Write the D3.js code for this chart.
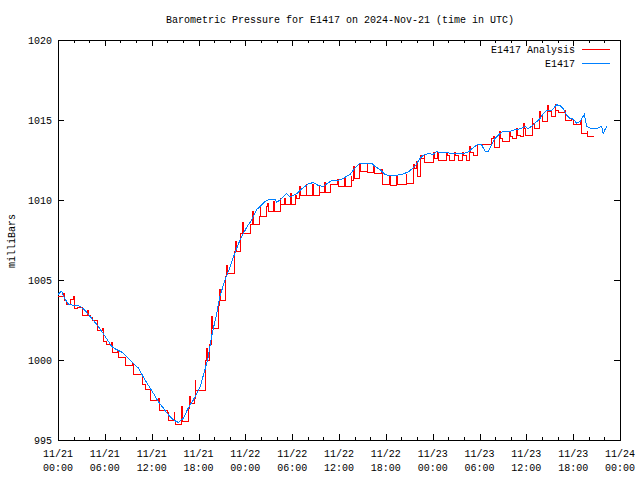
<!DOCTYPE html>
<html><head><meta charset="utf-8">
<script src="https://cdn.jsdelivr.net/npm/d3@7"></script>
<style>
body{margin:0;background:#fff;}
text{font-family:"Liberation Mono","DejaVu Sans Mono",monospace;font-size:10px;fill:#000;}
</style></head>
<body><svg id="c" width="640" height="480"></svg>
<script>
// ---- data (hours since 2024-11-21 00:00 UTC, pressure in mb) ----
const title = "Barometric Pressure for E1417 on 2024-Nov-21 (time in UTC)";
const yLabel = "milliBars";
const seriesNames = ["E1417 Analysis", "E1417"];
const yTicks = [995, 1000, 1005, 1010, 1015, 1020];
const xTickDates = ["11/21","11/21","11/21","11/21","11/22","11/22","11/22","11/22","11/23","11/23","11/23","11/23","11/24"];
const xTickTimes = ["00:00","06:00","12:00","18:00","00:00","06:00","12:00","18:00","00:00","06:00","12:00","18:00","00:00"];

const obsHours = [0.0,0.45,0.9,1.32,2.0,2.6,3.0,3.46,4.32,5.16,6.0,6.88,7.5,8.16,8.8,9.44,10.29,11.15,12.0,12.85,13.49,13.93,14.57,15.0,15.41,16.05,16.69,17.33,18.19,18.83,19.25,19.69,20.33,20.75,21.39,22.03,22.67,23.32,23.96,24.17,24.81,25.45,26.1,26.52,27.07,27.8,28.02,28.66,29.3,29.72,30.58,31.22,32.07,32.71,33.35,33.99,34.85,35.27,35.7,36.55,37.41,38.05,38.69,39.55,40.19,40.61,41.25,41.89,42.53,43.39,44.03,44.88,45.73,46.37,46.8,47.44,48.08,48.51,48.72,49.8,50.22,51.92,52.56,53.0,53.84,54.28,54.7,55.12,55.56,55.98,56.62,57.05,57.69,58.55,59.19,59.83,60.25,60.89,61.33,61.75,62.17,62.6,63.25,63.89,64.31,64.74,65.17,65.59,66.02,66.45,66.87,67.42,67.73,68.15,68.57,69.21,69.64,69.85,70.06,70.36];
const obsValues = [1004.1,1004.3,1003.8,1003.5,1003.4,1003.4,1003.3,1003.1,1002.6,1002.1,1001.5,1000.85,1000.65,1000.5,1000.2,999.9,999.5,998.75,998.1,997.4,997.0,996.7,996.35,996.2,996.1,996.35,997.0,997.5,998.3,999.4,1000.2,1001.5,1002.9,1004.0,1005.0,1005.8,1006.7,1007.5,1008.1,1008.3,1008.75,1009.4,1009.7,1009.9,1010.05,1010.05,1009.85,1010.1,1010.4,1010.2,1010.4,1010.7,1011.0,1011.1,1010.9,1010.85,1011.15,1011.25,1011.2,1011.35,1011.6,1012.0,1012.3,1012.25,1012.3,1012.1,1011.9,1011.6,1011.5,1011.55,1011.6,1011.75,1012.1,1012.6,1012.8,1012.9,1012.85,1013.05,1013.0,1013.0,1012.9,1012.9,1013.0,1013.2,1013.5,1013.45,1013.05,1013.05,1013.45,1013.85,1014.15,1014.3,1014.25,1014.4,1014.45,1014.6,1014.45,1014.7,1014.9,1015.1,1015.4,1015.6,1015.6,1015.95,1015.9,1015.7,1015.3,1015.1,1015.05,1014.8,1014.9,1015.35,1014.6,1014.5,1014.45,1014.5,1014.6,1014.15,1014.4,1014.6];

const anaHours = [0.0,0.75,0.85,1.1,1.6,1.95,2.05,2.5,3.1,3.8,3.9,4.1,4.4,5.0,5.7,5.85,6.2,6.9,7.0,7.6,7.75,8.7,9.5,9.65,10.8,11.2,11.8,12.9,13.0,14.0,14.2,14.9,14.95,15.1,15.85,15.9,16.0,16.7,16.85,16.95,17.5,17.6,17.65,18.95,19.05,19.15,19.45,19.65,19.75,20.5,20.7,20.8,21.5,21.65,21.75,22.55,22.75,22.85,23.4,23.65,23.8,24.7,24.9,25.0,25.8,25.9,26.0,26.7,26.85,27.0,27.6,27.7,28.45,28.55,29.0,29.1,29.8,29.9,30.4,30.5,30.95,31.05,31.8,31.9,32.65,32.75,33.45,33.55,34.15,34.25,34.9,35.8,35.9,36.7,36.8,37.55,37.65,37.85,37.95,38.65,38.75,39.6,39.7,40.45,40.55,41.4,41.6,42.45,42.55,43.35,43.45,44.6,44.7,45.6,45.7,45.95,46.05,46.5,46.6,46.9,47.0,48.15,48.25,48.6,48.7,49.75,49.85,50.1,50.85,50.95,51.3,51.85,51.95,52.3,52.75,52.85,53.2,53.8,55.5,55.85,55.95,56.55,56.65,57.0,57.85,57.95,58.2,58.75,58.85,59.2,59.65,59.75,59.95,60.75,60.85,61.05,61.75,61.85,62.05,62.75,62.85,63.25,63.7,63.8,64.15,64.9,65.0,65.8,66.0,66.95,67.05,67.8,67.9,68.7];
const anaValues = [1004.0,1004.15,1003.75,1003.5,1003.8,1004.0,1003.2,1003.3,1002.8,1003.1,1002.8,1002.65,1002.5,1001.85,1002.0,1001.15,1001.0,1001.1,1000.45,1000.55,1000.15,999.65,999.8,999.1,998.45,998.15,997.5,997.6,996.85,996.75,996.25,996.7,996.25,995.95,997.1,996.5,996.15,997.0,997.7,997.3,997.6,998.7,998.1,1000.0,1000.75,1000.0,1001.0,1002.7,1002.0,1003.4,1004.4,1003.7,1005.2,1005.9,1005.4,1006.8,1007.4,1006.8,1007.9,1008.6,1007.9,1008.5,1009.3,1008.5,1009.0,1009.65,1009.0,1009.6,1009.8,1009.27,1009.9,1009.3,1010.1,1009.73,1010.1,1009.7,1010.4,1009.7,1010.3,1010.1,1010.85,1010.3,1011.0,1010.3,1011.0,1010.3,1010.9,1010.45,1011.1,1010.5,1011.0,1011.3,1010.83,1011.4,1010.83,1011.5,1011.25,1012.1,1011.35,1012.2,1011.8,1012.3,1011.75,1012.1,1011.65,1011.9,1010.94,1011.56,1010.9,1011.5,1010.94,1011.6,1011.04,1012.2,1011.95,1012.4,1011.5,1012.77,1012.6,1012.85,1012.33,1013.0,1012.6,1013.0,1012.5,1013.0,1012.8,1012.5,1013.0,1012.8,1012.5,1012.95,1012.8,1012.5,1013.35,1013.0,1012.8,1013.48,1013.85,1014.0,1013.3,1014.27,1013.85,1013.65,1014.3,1014.0,1013.85,1014.5,1014.06,1013.96,1014.8,1014.5,1014.06,1015.1,1014.8,1014.44,1015.52,1015.2,1014.9,1015.9,1015.56,1015.2,1015.94,1015.6,1015.48,1015.6,1015.0,1015.05,1014.7,1015.0,1014.17,1014.3,1013.96,1013.96];

// ---- chart ----
const t0 = Date.UTC(2024, 10, 21, 0, 0);
const toDate = h => new Date(t0 + h * 3600e3);
const L = 58, R = 620, T = 40, B = 440;
const svg = d3.select("#c");
const x = d3.scaleUtc().domain([toDate(0), toDate(72)]).range([L, R]);
const y = d3.scaleLinear().domain([995, 1020]).range([B, T]);

const majorT = d3.utcHour.every(6).range(toDate(0), toDate(72.01));
const minorT = d3.utcHour.every(2).range(toDate(0), toDate(72.01));

function ticks(axisFn, scale, vals, size, tx, ty) {
  svg.append("g").attr("transform", `translate(${tx},${ty})`).attr("shape-rendering", "crispEdges")
    .call(axisFn(scale).tickValues(vals).tickSizeInner(-size).tickSizeOuter(0).tickFormat(""))
    .call(g => g.select(".domain").remove());
}
ticks(d3.axisBottom, x, minorT, 3, 0, B);
ticks(d3.axisTop, x, minorT, 3, 0, T);
ticks(d3.axisBottom, x, majorT, 6, 0, B);
ticks(d3.axisTop, x, majorT, 6, 0, T);
ticks(d3.axisLeft, y, yTicks, 6, L, 0);
ticks(d3.axisRight, y, yTicks, 6, R, 0);
svg.selectAll(".tick line").attr("stroke", "#000");

// y labels
svg.append("g").selectAll("text").data(yTicks).join("text")
  .attr("x", L - 6).attr("y", d => y(d)).attr("dy", "0.35em")
  .attr("text-anchor", "end").text(d => d);
// x labels
const xl = svg.append("g").selectAll("text").data(majorT).join("text")
  .attr("text-anchor", "middle");
xl.append("tspan").attr("x", d => x(d)).attr("y", 457).text((d, i) => xTickDates[i]);
xl.append("tspan").attr("x", d => x(d)).attr("y", 471).text((d, i) => xTickTimes[i]);

// border
svg.append("rect").attr("x", L + 0.5).attr("y", T + 0.5).attr("width", R - L).attr("height", B - T)
  .attr("fill", "none").attr("stroke", "#000").attr("shape-rendering", "crispEdges");

// title & axis label
svg.append("text").attr("x", 340).attr("y", 23).attr("text-anchor", "middle").text(title);
svg.append("text").attr("transform", "translate(15,241) rotate(-90)").attr("text-anchor", "middle").text(yLabel);

// series
const ana = anaHours.map((h, i) => [toDate(h), anaValues[i]]);
const obs = obsHours.map((h, i) => [toDate(h), obsValues[i]]);
svg.append("path").datum(ana)
  .attr("d", d3.line().x(d => x(d[0])).y(d => y(d[1])).curve(d3.curveStepAfter))
  .attr("fill", "none").attr("stroke", "#ff0000").attr("stroke-width", 1)
  .attr("shape-rendering", "crispEdges");
svg.append("path").datum(obs)
  .attr("d", d3.line().x(d => x(d[0])).y(d => y(d[1])))
  .attr("fill", "none").attr("stroke", "#0080ff").attr("stroke-width", 1)
  .attr("shape-rendering", "crispEdges");

// legend
const colors = ["#ff0000", "#0080ff"];
seriesNames.forEach((n, i) => {
  const yy = 49 + i * 14;
  svg.append("text").attr("x", 575).attr("y", yy).attr("dy", "0.35em").attr("text-anchor", "end").text(n);
  svg.append("line").attr("x1", 582).attr("x2", 610).attr("y1", yy + 0.5).attr("y2", yy + 0.5)
    .attr("stroke", colors[i]).attr("stroke-width", 1).attr("shape-rendering", "crispEdges");
});
</script></body></html>
